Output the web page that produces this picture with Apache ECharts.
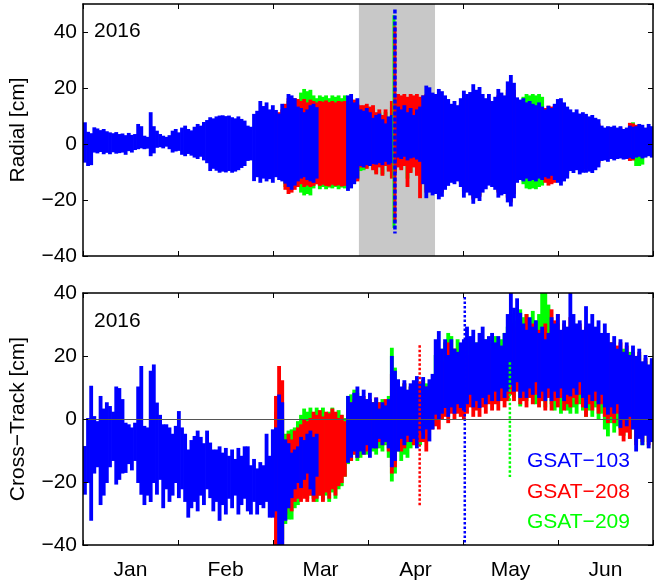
<!DOCTYPE html>
<html>
<head>
<meta charset="utf-8">
<script src="https://cdn.jsdelivr.net/npm/echarts@6/dist/echarts.min.js"></script>
<style>
html,body{margin:0;padding:0;background:#fff;}
#chart{width:654px;height:585px;}
</style>
</head>
<body>
<div id="chart"></div>
<script>
// ---------------- DATA (cm, daily min/max envelopes, day 0 = 1 Jan 2016) ----------------
const months = ['Jan', 'Feb', 'Mar', 'Apr', 'May', 'Jun'];
const satNames = ['GSAT\u2212103', 'GSAT\u2212208', 'GSAT\u2212209'];
const shadeDays = [88.1, 112.4];
const blueFirstDay = 0;
const redGreenFirstDay = 61;

// Radial, GSAT-103 (blue)
const radialBlueHi = [
 7.4,4,3.5,5.6,5.2,4.6,5,4.2,3.8,3.5,
 3.9,3.2,3.4,2.8,3.6,2.9,3.2,6.8,6,2.6,
 2.2,11,6,4.4,3.2,2.6,2.2,2.8,4.4,5,
 3.8,5.5,6.2,5,4.5,5.8,6.8,6.2,7.5,8.2,
 9.2,8.8,9.5,9.8,9.9,9.6,9.8,9.2,8.8,9.5,
 8.6,8,6.2,5.8,10.4,11.5,15,13.2,14.5,12,
 13.5,11.8,10.5,14,12.5,17.5,17,16,13,12.5,
 11,12,13.5,14,12.8,null,null,null,null,null,null,null,null,null,
 17,17.5,14.5,16,12,11.5,12.5,11,9,10,
 10.5,8.5,7,9.5,10,12,13,12,13.5,11,
 12.5,10,12,13,17,20.5,19.9,18,17.5,19.3,
 18.5,17,15.7,14,15,13.5,16,18.7,17.5,18.2,
 21,19,20,17.5,16,17.5,15,16.5,19.3,18,
 17,22,24.3,21.5,16.3,15.5,16,14.5,15,14,
 13.5,14.5,13,12,13.3,12.5,14,15.7,16,14.5,
 13,12,11,12,10.5,11,10.4,9.5,10,9,
 8.5,6.2,5.5,6,5.8,6.2,5.5,6,5,5.5,
 6.2,5.8,6,6.8,6.5,5.5,6.8,6
];
const radialBlueLo = [
 -6.3,-7.5,-7.2,-2.7,-3,-2.5,-3.3,-2.8,-3.3,-2.6,
 -3.1,-2.9,-2.7,-3.5,-2.2,-2.7,-1.8,-1.5,-1.2,-1.5,
 -1.3,-4,-3,-1,-0.8,-1.2,-0.6,-1.5,-2.7,-2.3,
 -2.1,-3.5,-4,-3.2,-3.8,-4.5,-5,-4.2,-5.5,-6.5,
 -9.3,-8.5,-9.2,-9.9,-9.5,-9.8,-9.3,-9.9,-9.5,-9,
 -8.2,-7.5,-5.7,-5.5,-12.9,-11.5,-13.5,-12,-13,-12.2,
 -13.5,-11.5,-12.5,-13,-13.8,-15,-16,-14.5,-13,-12,
 -11.5,-12.5,-13,-13.5,-12,null,null,null,null,null,null,null,null,null,
 -16.4,-15.5,-14,-12,-7.5,-8,-7.2,-7.5,-6.8,-7,
 -6.5,-7.2,-6,-7,-6.5,-6,-4.5,-5,-4.2,-5.5,
 -4.8,-4.5,-5.2,-6,-14,-19,-17,-18,-17.5,-19.4,
 -18.5,-16,-14.6,-13.5,-14,-13,-15,-18.8,-17,-18,
 -21,-19,-20,-17,-15.8,-14.5,-15,-16,-18.8,-18,
 -17.5,-20.5,-22,-19,-13.5,-12.5,-13,-12,-12.9,-12.5,
 -13,-12,-12.5,-11.5,-12,-11,-12.5,-13.5,-14.5,-13,
 -12,-9.3,-10,-9,-10.5,-9.9,-9.9,-9.5,-10,-9,
 -8,-5.7,-5.5,-6,-5,-5.5,-5,-4.8,-5.2,-5,
 -4.6,-5,-4.5,-4.2,-4.8,-4.5,-4,-4.5
];
// Radial, GSAT-208 (red), from day 61
const radialRedHi = [
 10,11,12,
 14,16,15.5,16,15.7,15,15.7,14.5,15.5,15,
 14.5,15,14.8,15.2,14.6,15,14.5,15,14.8,15,
 14,13,15.5,14,13.5,13.5,14,13,13.5,11,
 12,10,12,9,15,14,17.5,17,17.5,16.5,
 17.5,17,17.5,16.5,17,17.5,17,16,15.5,16,
 16,15,14,12.5,13,12,14,16,15.5,16,
 18,17,17.5,15,14,15.5,13.5,14.5,17,16,
 15,19,21,19,14.5,13.5,14,13,13.3,12.5,
 12,13,12,12.5,13.3,13,13.3,14,14.5,13,
 11.5,10.5,9.5,10.5,9,9.5,9,8,8.5,7.5,
 7,5.5,5,5.5,5,5.5,5,5.5,4.5,5,
 7.2,7,6.5,5.5,5.5,5,5.5,5
];
const radialRedLo = [
 -10,-11,-12,
 -16,-17.5,-17,-16,-15,-14,-15,-14.5,-15,-14.6,
 -14,-14.6,-14.2,-14.6,-14.8,-14.2,-14.6,-14.4,-14.8,-14.6,
 -14,-12,-13,-13,-8,-8,-8.5,-7.5,-9,-10.5,
 -8,-11,-7.5,-9.5,-12,-10,-8,-9,-7.5,-15,
 -10,-8,-11,-19,-13,-17,-15.5,-16.5,-16,-17.5,
 -17,-14.5,-13,-12,-12.5,-11.5,-13.5,-17,-15.5,-16.5,
 -19.5,-17.5,-18.5,-15.5,-14,-13,-13.5,-14.5,-17,-16.5,
 -16,-19,-20.5,-17.5,-12,-11,-11.5,-10.5,-11.5,-11,
 -11.5,-10.5,-11,-13.5,-14.5,-14,-13.5,-12,-13,-11.5,
 -10.5,-8,-8.5,-7.5,-9,-8.5,-8.5,-8,-8.5,-7.5,
 -6.5,-4.5,-4.5,-5,-4.5,-4.8,-4.5,-4.2,-4.5,-4.2,
 -5.7,-5.5,-4,-3.8,-4,-4,-3.5,-4
];
// Radial, GSAT-209 (green), from day 61
const radialGreenHi = [
 9,10,11,
 13,15,14.5,15,14.5,18,19.3,18.5,19,17,
 16,17,16.5,17,16,17,16.5,17,16,17,
 13,12,14,13,12,12.5,13,12,12.5,10,
 11,9.5,11,8.5,13,13,15,15,15.5,15,
 16,15,15.5,15,16,17,16,15,14.5,15,
 15,14,13,12,12,11.5,13,15,14.5,15,
 17,16,16.5,14,13.5,14.5,13,14,16,15,
 14.5,18,20,18,14,13,16.5,17.5,17,17.5,
 17,17.5,16.5,12,12,12.5,12.5,13.5,14,12.5,
 11,10,9,10,8.5,9,8.5,7.5,8,7,
 6.5,5,4.5,5,4.5,5,4.5,5,4,4.5,
 6,7.4,6,5,5,4.5,5,4.5
];
const radialGreenLo = [
 -9,-10,-11,
 -15,-16,-16,-15,-14,-17,-18,-17.5,-18,-15.5,
 -14,-15.8,-15,-15.8,-15.2,-15.5,-15,-15.8,-15.2,-15.5,
 -14.5,-12.5,-13,-12.5,-9.3,-9,-8,-7,-8.5,-10,
 -7.5,-10.5,-7,-9,-11.5,-9.5,-7.5,-8.5,-7,-12,
 -9.5,-7.5,-10,-8.5,-12.5,-16,-15,-16,-15.5,-17,
 -16.5,-14,-12.5,-11.5,-12,-11,-13,-16.5,-15,-16,
 -19,-17,-18,-15,-13.5,-12.5,-13,-14,-16.5,-16,
 -15.5,-18.5,-20,-17,-11.5,-10.5,-14,-15.5,-15.8,-15.5,
 -15.8,-15,-14.5,-11,-12,-11.5,-11,-11.5,-12.5,-11,
 -10,-7.5,-8,-7,-8.5,-8,-8,-7.5,-8,-7,
 -6,-4,-4,-4.5,-4,-4.5,-4,-4,-4,-4,
 -5,-5.5,-7.5,-7.5,-7,-4,-3.5,-4
];
// Radial short excursion (early April)
const radialSpikeDay = [99.6];
const radialSpikeBlue = [-32, 48];
const radialSpikeRed = [-28, 42];
const radialSpikeGreen = [-30, 46];

// Cross-track, GSAT-103 (blue)
const crossBlueHi = [
 -8.9,0,10.2,0.6,-1,7,3,5,3.8,2,
 10,9.5,6,-1.5,-2,-3,-1.5,10,16.5,-2.5,
 -3,15,17,4.9,1,-2,-2,-3,-5,-2.5,
 2.2,-3,-5,-10,-7,-5.7,-4,-6,-8,-4,
 -7.8,-10,-10,-9,-11,-9.5,-12,-10,-13,-9.5,
 -12,-9,-9,-15,-13,-16,-14,-15,-5,-12,
 -3.6,-3,7.5,5,-6.8,-8,-11,-10,-9,-6,
 -7,-5,-4,-6,-5,null,null,null,null,null,null,null,null,null,
 7,5,8,10,7,9,6,8,5,6.5,
 3,5,4,6,19.7,15,12.3,10,12,9,
 11,12,13.3,11,13,10,12.3,14,25,27.6,
 22,25,20,25,22,21,24,25,29,26,
 28,24,27,29,25,26,27,24,26,23,
 27,33,39.8,35,38,33.4,30,28,32,29,
 31,27,29,25,27,32,30,33,28,31,
 29,39.8,33,30,31,28,35.5,30,33,29,
 31,27,30,27,24,26,22,25,21,24,
 20,23,19.7,22,18,20,17,19
];
const crossBlueLo = [
 -23.7,-20,-32,-17,-15,-27,-24,-20,-15,-13,
 -20.5,-19,-17,-16.8,-14,-16,-13,-20,-23.7,-27,
 -24,-26,-20,-23.7,-19,-28,-22,-26,-24,-20,
 -24.8,-22,-26,-31,-28,-26,-29,-24,-27,-22,
 -24.8,-29,-26,-32,-27,-30,-25,-28,-24,-30,
 -27,-25,-29,-30,-26,-30,-27,-28,-26,-31,
 -31,-29,-40,-40,-32,-28,-24.8,-22,-20,-21.6,
 -19,-17,-22,-24,-18,null,null,null,null,null,null,null,null,null,
 -13.6,-12,-10,-12,-10,-11,-8,-12,-9,-9,
 -6,-8,-7,-9,-15,-13,-10,-6,-8,-5,
 -7,-6,-9,-4,-6,-3,-6.8,-3,1.7,0,
 2,3.8,1,4,2,5,3.8,3,5,8,
 4,6,3.8,7,5,8,6,9,6,10,
 7,9,11,9,12,7,9,7,10,8,
 12,7,9,6,10,6,9,7,10,6,
 8,7.5,10,8,12,7,3.8,8,6,9,
 5,8,4,1.7,4,2,5,-2.5,0,-2,
 1,-3,-10,-6,-8,-5,-9,-7
];
// Cross-track, GSAT-208 (red), from day 61
const crossRedHi = [
 7,16.5,12,
 -6.8,-5,-6.8,-4,-3,-2,-0.4,-1,0,2,
 1,2.5,0.5,2,1.5,3,2,0,1,-1,
 3,5,6,7,6,7,4,6,5,6.5,
 5,4,6,4,14,12,10,9,11,8,
 10,9,11,11,12,10,7,9,14,10,
 18,16,24,20,22,18,20,24,20,18,
 22,17,24,20,16,19,22,20,18,21,
 17,24,30,27,29,31,28,33,27,30,
 26,28,24,30,27,34.5,31,33,27,30,
 26,32,29,27,30,25,29,26,28,24,
 27,23,25,22,24,20,23,24,21,23,
 19,21,19.7,21,17,19,16,18
];
const crossRedLo = [
 -40,-36,-40,
 -30,-28,-29,-26,-25,-26,-25,-26,-24,-26,
 -25,-24,-26,-23,-25,-22,-24,-21,-20,-18,
 -12,-13,-11,-12,-9,-11,-10,-8,-7,-9,
 -7,-8,-6,-10,-17,-15,-8,-10,-9,-7,
 -6,-8,-7,-7,-7,-10,-2.5,-3,-2,-3,
 0,1,-1,2,0,2,1,0,2,4,
 1,3,1,4,2,5,3,5,3,6,
 4,6,8,6,9,5,6,4,7,5,
 8,4,6,3,7,3,6,4,7,3,
 5,4,7,5,8,4,1,5,3,6,
 2,5,1,-1,1,-1,2,-5,-6.8,-4,
 -6,-2,-8,-4,-7,-3,-8,-5
];
// Cross-track, GSAT-209 (green), from day 61
const crossGreenHi = [
 2,5,0,
 -5,-4,-3.6,-3,-1,1,3,2,3.3,1,
 3.3,2,3.3,1,2,3.3,1.5,2.5,1,0,
 7,7.5,9,8,7,5,6,4,5,6,
 5,6,4,7,22.3,16,12,9,11,8,
 10,9,11,10,12,11,10,9,20,18,
 22,24,27,26,22,25,21,23,25,23,
 22,24,21,23,25,22,24,26,22,25,
 27,29,33,31,30,34.5,32,33,30,34,
 31,33,40,40,36,30,28,30,27,29,
 26,28,30,27,29,25,28,26,29,25,
 27,24,25,23,24,20,22,20,22,19,
 21,18,19,20,17,18,16,17
];
const crossGreenLo = [
 -30,-35,-38,
 -33,-31.6,-31.6,-28,-27,-24,-22,-25,-24,-25,
 -26,-24,-25.5,-24,-26,-23,-25,-22,-21,-18,
 -14,-13,-11,-13,-12,-10,-11,-9,-10,-11,
 -9,-10,-8,-12,-19.5,-17,-10,-13,-11,-12,
 -9,-8,-7,-8,-5,-6,-2,-1,0,1,
 0,2,3,4,2,5,4,6,5,7,
 6,8,6,9,7,9,8,6,9,8,
 7,6,9,7,10,4.3,8,6,9,7,
 5,8,6,4,8,5,3,6,2,5,
 3,2,4,2,5,3,1,3,1,4,
 0,2,-3,-5.2,-1,-4,-2,-3,-5,-2,
 -6,-3,-7,-5,-8,-4,-7,-5
];
// Cross-track isolated excursions
const crossSpikeRed = [107.5, -28, 23.4];
const crossSpikeBlue = [121.9, -40, 38.7];
const crossSpikeGreen = [136.3, -18.4, 18];

// ---------------- CHART ----------------
const FONT = '"Liberation Sans", Arial, Helvetica, sans-serif';
const BLUE = '#0000ff', RED = '#ff0000', GREEN = '#00ff00';

function bandData(first, lo, hi) {
  const out = [];
  for (let i = 0; i < hi.length; i++) {
    if (hi[i] == null || lo[i] == null) continue;
    out.push([first + i, lo[i], hi[i]]);
  }
  return out;
}
function renderBand(params, api) {
  const d = api.value(0), lo = api.value(1), hi = api.value(2);
  const a = api.coord([d, hi]);
  const b = api.coord([d + 1, lo]);
  const cs = params.coordSys;
  const shape = echarts.graphic.clipRectByRect(
    {x: a[0], y: a[1] - 1, width: b[0] - a[0] + 0.7, height: b[1] - a[1] + 2},
    {x: cs.x, y: cs.y, width: cs.width, height: cs.height});
  return shape && {type: 'rect', shape: shape, style: {fill: api.visual('color')}};
}
function makeSpikeRenderer(width, dash) {
  return function (params, api) {
    const d = api.value(0);
    const a = api.coord([d, api.value(2)]);
    const b = api.coord([d, api.value(1)]);
    const cs = params.coordSys;
    const top = Math.max(a[1], cs.y), bot = Math.min(b[1], cs.y + cs.height);
    return {type: 'line', shape: {x1: a[0], y1: top, x2: b[0], y2: bot},
      style: {stroke: api.visual('color'), lineWidth: width, lineDash: dash}};
  };
}
function band(name, color, xi, yi, data, z) {
  return {type: 'custom', name: name, xAxisIndex: xi, yAxisIndex: yi, z: z,
    itemStyle: {color: color}, renderItem: renderBand, data: data,
    encode: {x: 0, y: [1, 2]}, animation: false, silent: true};
}
function spike(name, color, xi, yi, data, width, dash) {
  return {type: 'custom', name: name, xAxisIndex: xi, yAxisIndex: yi, z: 3,
    itemStyle: {color: color}, renderItem: makeSpikeRenderer(width, dash), data: data,
    encode: {x: 0, y: [1, 2]}, animation: false, silent: true};
}
const fmt = v => (v < 0 ? '\u2212' + Math.abs(v) : String(v));
const black = {color: '#000', width: 1.5};

function xAxes(gi, withLabels) {
  return [
    {type: 'value', gridIndex: gi, min: 0, max: 182, position: 'bottom', z: 5,
      axisLine: {show: true, onZero: false, lineStyle: black}, axisTick: {show: false},
      axisLabel: {show: false}, splitLine: {show: false}},
    {type: 'value', gridIndex: gi, min: 0, max: 182, position: 'top', z: 5,
      axisLine: {show: true, onZero: false, lineStyle: black}, axisTick: {show: false},
      axisLabel: {show: false}, splitLine: {show: false}},
    {type: 'category', gridIndex: gi, data: months, position: 'bottom', boundaryGap: true, z: 0,
      axisLine: {show: false, onZero: false}, axisTick: {show: true, inside: true, length: 5, lineStyle: {color: '#000', width: 1}},
      axisLabel: withLabels ? {show: true, margin: 15, color: '#000', fontSize: 21, fontFamily: FONT} : {show: false},
      splitLine: {show: false}},
    {type: 'category', gridIndex: gi, data: months, position: 'top', boundaryGap: true, z: 0,
      axisLine: {show: false, onZero: false}, axisTick: {show: true, inside: true, length: 5, lineStyle: {color: '#000', width: 1}},
      axisLabel: {show: false}, splitLine: {show: false}}
  ];
}
function yAxes(gi, min, max, name) {
  return [
    {type: 'value', gridIndex: gi, min: min, max: max, interval: 20, position: 'left', z: 5,
      name: name, nameLocation: 'middle', nameGap: 54,
      nameTextStyle: {fontSize: 21, fontFamily: FONT, color: '#000'},
      axisLine: {show: true, onZero: false, lineStyle: black},
      axisTick: {show: true, inside: true, length: 5, lineStyle: {color: '#000', width: 1}},
      axisLabel: {show: true, margin: 6, color: '#000', fontSize: 21, fontFamily: FONT, formatter: fmt, showMaxLabel: max % 20 === 0},
      splitLine: {show: false}},
    {type: 'value', gridIndex: gi, min: min, max: max, interval: 20, position: 'right', z: 5,
      axisLine: {show: true, onZero: false, lineStyle: black},
      axisTick: {show: true, inside: true, length: 5, lineStyle: {color: '#000', width: 1}},
      axisLabel: {show: false}, splitLine: {show: false}}
  ];
}

const chart = echarts.init(document.getElementById('chart'), null, {renderer: 'canvas'});
const option = {
  backgroundColor: '#ffffff',
  animation: false,
  textStyle: {fontFamily: FONT},
  grid: [
    {left: 83, top: 4, width: 570, height: 252},
    {left: 83, top: 293, width: 570, height: 252}
  ],
  xAxis: xAxes(0, false).concat(xAxes(1, true)),
  yAxis: yAxes(0, -40, 50, 'Radial [cm]').concat(yAxes(1, -40, 40, 'Cross\u2212Track [cm]')),
  legend: {
    orient: 'vertical', left: 517, top: 446, itemWidth: 0, itemHeight: 0, itemGap: 9.5,
    selectedMode: false, icon: 'rect',
    textStyle: {fontSize: 21, lineHeight: 21, fontFamily: FONT},
    data: [
      {name: satNames[0], textStyle: {color: BLUE}},
      {name: satNames[1], textStyle: {color: RED}},
      {name: satNames[2], textStyle: {color: GREEN}}
    ]
  },
  graphic: [
    {type: 'text', left: 94, top: 21, z: 10, style: {text: '2016', fontSize: 21, fontFamily: FONT, fill: '#000'}},
    {type: 'text', left: 94, top: 311, z: 10, style: {text: '2016', fontSize: 21, fontFamily: FONT, fill: '#000'}}
  ],
  series: [
    {type: 'line', name: 'shade', xAxisIndex: 0, yAxisIndex: 0, data: [], z: 1, silent: true,
      markArea: {silent: true, itemStyle: {color: '#c8c8c8'},
        data: [[{xAxis: shadeDays[0]}, {xAxis: shadeDays[1]}]]}},
    band(satNames[2], GREEN, 0, 0, bandData(redGreenFirstDay, radialGreenLo, radialGreenHi), 2),
    band(satNames[1], RED, 0, 0, bandData(redGreenFirstDay, radialRedLo, radialRedHi), 2),
    band(satNames[0], BLUE, 0, 0, bandData(blueFirstDay, radialBlueLo, radialBlueHi), 2),
    spike(satNames[2], GREEN, 0, 0, [[radialSpikeDay[0] - 0.3, radialSpikeGreen[0], radialSpikeGreen[1]]], 3, null),
    spike(satNames[1], RED, 0, 0, [[radialSpikeDay[0], radialSpikeRed[0], radialSpikeRed[1]]], 3, null),
    spike(satNames[0], BLUE, 0, 0, [[radialSpikeDay[0], radialSpikeBlue[0], radialSpikeBlue[1]]], 3.5, [4, 2]),

    {type: 'line', name: 'zero', xAxisIndex: 4, yAxisIndex: 2, data: [], z: 1, silent: true,
      markLine: {silent: true, symbol: 'none', label: {show: false},
        lineStyle: {color: '#555', width: 1, type: 'solid'}, data: [{yAxis: 0}]}},
    band(satNames[2], GREEN, 4, 2, bandData(redGreenFirstDay, crossGreenLo, crossGreenHi), 2),
    band(satNames[1], RED, 4, 2, bandData(redGreenFirstDay, crossRedLo, crossRedHi), 2),
    band(satNames[0], BLUE, 4, 2, bandData(blueFirstDay, crossBlueLo, crossBlueHi), 2),
    spike(satNames[1], RED, 4, 2, [crossSpikeRed], 2.5, [2.5, 2]),
    spike(satNames[2], GREEN, 4, 2, [crossSpikeGreen], 2.5, [2.5, 2]),
    spike(satNames[0], BLUE, 4, 2, [crossSpikeBlue], 2.5, [2.5, 2])
  ]
};
chart.setOption(option);
</script>
</body>
</html>
